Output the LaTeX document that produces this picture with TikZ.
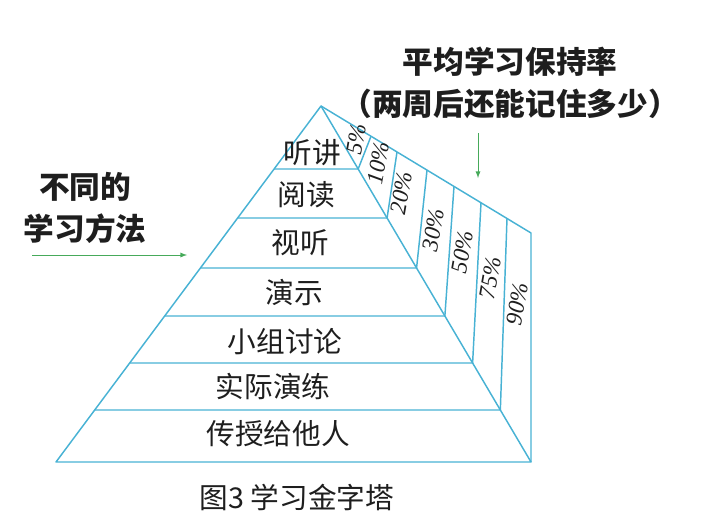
\documentclass[tikz,border=0pt]{standalone}
\usepackage{fontspec}
\usepackage{tikz}
\usetikzlibrary{calc}
\setmainfont{Liberation Serif}
\newfontfamily\cjk{Noto Sans CJK SC}
\definecolor{pyr}{RGB}{72,178,212}
\definecolor{arrowgreen}{RGB}{70,170,90}
\definecolor{ink}{RGB}{30,30,30}

\begin{document}
\begin{tikzpicture}[x=0.75pt,y=-0.75pt,
  edge/.style={draw=pyr,line width=1.1pt,line join=round},
  level/.style={font=\cjk\fontsize{21.5}{24}\selectfont,text=ink},
  rate/.style={font=\itshape\fontsize{17.5}{19}\selectfont,rotate=80,text=ink,inner sep=0pt},
  heading/.style={font=\cjk\bfseries\fontsize{23}{32}\selectfont,text=ink,align=center},
  hint/.style={draw=arrowgreen,line width=0.7pt,-latex}]
 \useasboundingbox (0,0) rectangle (705,531);
 \coordinate (apex) at (321,106);
 \coordinate (bl) at (56,462);
 \coordinate (br) at (531,462);
 \coordinate (tr) at (531,233);
 \draw[edge] (bl)--(apex)--(br)--cycle;
 \draw[edge] (apex)--(tr)--(br);
 \foreach \y/\xt in {169/371,218/397,268/427,316/454,363/481,410/507} {
   \pgfmathsetmacro\t{(\y-106)/356}
   \pgfmathsetmacro\s{(\xt-321)/210}
   \draw[edge] ($(apex)!\t!(bl)$)--($(apex)!\t!(br)$)--($(apex)!\s!(tr)$);
 }
 \foreach \x/\y/\lab [count=\i] in {312/153/听讲,306/195/阅读,300/243/视听,294/293/演示,
   285/342/小组讨论,273/387/实际演练,278/434/传授给他人} {
   \node[level] (level\i) at (\x,\y) {\lab};
 }
 \foreach \x/\y/\p [count=\i] in {356/139/5,378/163/10,401/193/20,433/230/30,
   462/252/50,490/278/75,517/304/90} {
   \node[rate] (rate\i) at (\x,\y) {\p\%};
 }
 \node[heading] (retention) at (510,83) {平均学习保持率\\（两周后还能记住多少）};
 \node[heading] (methods) at (85,208) {不同的\\学习方法};
 \coordinate (methodsfrom) at (32,255);
 \coordinate (methodsto) at (187,255);
 \coordinate (retentionfrom) at (478,133);
 \coordinate (retentionto) at (478,178);
 \draw[hint] (methodsfrom)--(methodsto);
 \draw[hint] (retentionfrom)--(retentionto);
 \node[font=\cjk\fontsize{21.5}{24}\selectfont,text=ink] (caption) at (297,497) {图3 学习金字塔};
\end{tikzpicture}
\end{document}
